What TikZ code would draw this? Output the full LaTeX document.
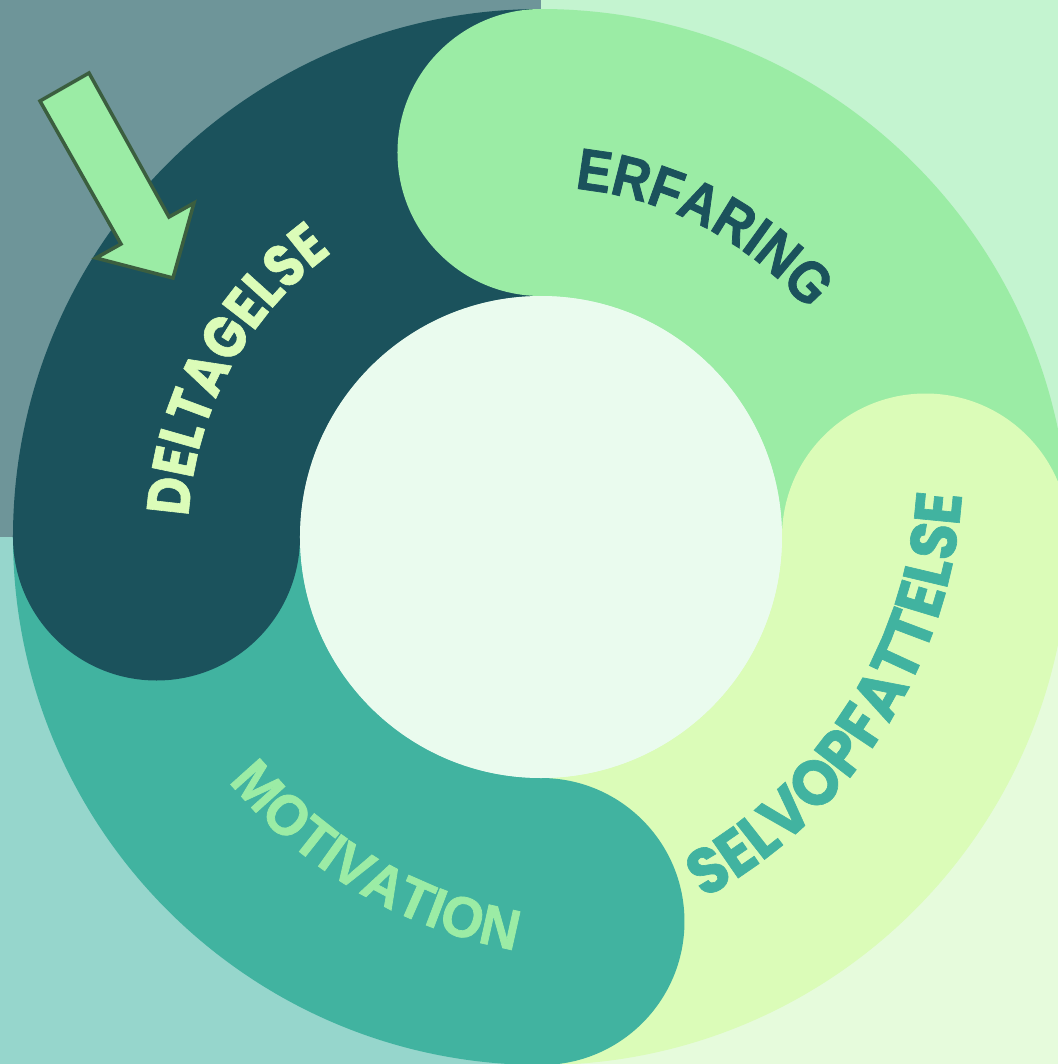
\documentclass[tikz,border=0pt]{standalone}
\usepackage{fontspec}
\newfontfamily\geoNarrow{Poppins Bold}[FakeStretch=0.865, FakeBold=1]
\newfontfamily\geoMid{Poppins Bold}[FakeStretch=0.92, FakeBold=1]
\newfontfamily\arialNarrow{Liberation Sans Bold}[FakeStretch=0.88, FakeBold=1.3]
\newfontfamily\arialMid{Liberation Sans Bold}[FakeStretch=0.95, FakeBold=1.3]
\usetikzlibrary{calc}
\usetikzlibrary{decorations.text}
\definecolor{bgTL}{HTML}{6E9599}
\definecolor{bgTR}{HTML}{C4F4D0}
\definecolor{bgBL}{HTML}{96D6CC}
\definecolor{bgBR}{HTML}{E6FBDC}
\definecolor{darkTeal}{HTML}{1B525C}
\definecolor{lightGreen}{HTML}{9BECA5}
\definecolor{paleYellow}{HTML}{DBFCB8}
\definecolor{midTeal}{HTML}{41B3A0}
\definecolor{innerFill}{HTML}{EAFBEE}
\definecolor{arrowLine}{HTML}{3B5E3F}
\newcommand*{\outerR}{5.28}
\newcommand*{\innerR}{2.41}
\newcommand*{\midR}{3.845}
\newcommand*{\capR}{1.435}
\newcommand{\drawSegment}[3]{
	%Quarter of the ring
	\fill[#3] (#1:\outerR) arc (#1:#2:\outerR) -- (#2:\innerR) arc (#2:#1:\innerR) -- cycle;
}
\newcommand{\drawCap}[2]{
	%Round head of a segment
	\fill[#2] (#1:\midR) circle (\capR);
}
\newcommand{\ringText}[7]{
	%Text bent round an arc about #1
	\path[decorate, decoration={text along path, text align=center,
		text color=#6, text={|#5|#7}}] ($(#1)+(#3:#2)$) arc (#3:#4:#2);
}

\begin{document}
\begin{tikzpicture}
		%Fix the frame
		\useasboundingbox (-5.41,-5.27) rectangle (5.17,5.37);
		\clip (-5.41,-5.27) rectangle (5.17,5.37);

		%Draw background quarters
		\fill[bgTL] (-5.41,0) rectangle (0,5.37);
		\fill[bgTR] (0,0) rectangle (5.17,5.37);
		\fill[bgBL] (-5.41,-5.27) rectangle (0,0);
		\fill[bgBR] (0,-5.27) rectangle (5.17,0);

		%Draw ring segments
		\drawSegment{0}{90}{lightGreen}
		\drawSegment{90}{180}{darkTeal}
		\drawSegment{180}{270}{midTeal}
		\drawSegment{270}{360}{paleYellow}

		%Draw heads
		\drawCap{90}{lightGreen}
		\drawCap{180}{darkTeal}
		\drawCap{270}{midTeal}
		\drawCap{0}{paleYellow}

		\fill[innerFill] (0,0) circle (\innerR);

		%Labels
		\coordinate (O) at (0,0);
		\coordinate (OS) at (-0.75,0.75);
		\coordinate (OM) at (0.6,0.6);
		\ringText{O}{3.53}{181}{122}{\geoNarrow\fontsize{17}{20}\selectfont}{paleYellow}{DELTAGELSE}
		\ringText{O}{3.50}{90}{34.8}{\arialNarrow\fontsize{16.7}{20}\selectfont}{darkTeal}{ERFARING}
		\ringText{OS}{4.97}{-67}{1.8}{\geoMid\fontsize{18.4}{20}\selectfont}{midTeal}{SELVOPFATTELSE}
		\ringText{OM}{4.81}{214}{265}{\arialMid\fontsize{16.2}{20}\selectfont}{lightGreen}{MOTIVATION}

		%Draw start arrow
		\coordinate (A1) at (-5.01,4.36);
		\coordinate (A2) at (-4.52,4.64);
		\coordinate (A3) at (-3.72,3.20);
		\coordinate (A4) at (-3.47,3.34);
		\coordinate (A5) at (-3.68,2.59);
		\coordinate (A6) at (-4.45,2.79);
		\coordinate (A7) at (-4.20,2.93);
		\filldraw[fill=lightGreen, draw=arrowLine, line width=1pt, line join=miter]
			(A1) -- (A2) -- (A3) -- (A4) -- (A5) -- (A6) -- (A7) -- cycle;
	\end{tikzpicture}
\end{document}
